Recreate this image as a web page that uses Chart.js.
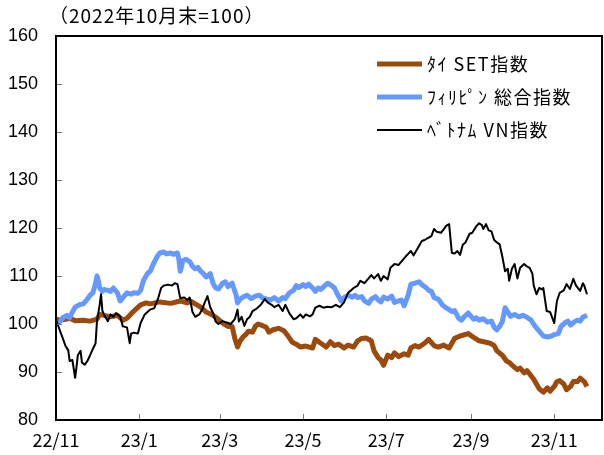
<!DOCTYPE html>
<html>
<head>
<meta charset="utf-8">
<script src="https://cdn.jsdelivr.net/npm/chart.js@4"></script>
<style>
  html, body { margin: 0; padding: 0; background: #ffffff; }
  #wrap { width: 604px; height: 455px; position: relative; }
</style>
</head>
<body>
<div id="wrap"><canvas id="c" width="604" height="455"></canvas></div>
<script>
// Title / labels
const titleText = '（2022年10月末=100）';
const seriesNames = ['ﾀｲ SET指数', 'ﾌｨﾘﾋﾟﾝ 総合指数', 'ﾍﾞﾄﾅﾑ VN指数'];

// X axis: days since 2022-11-01, tick labels
const xTickDays = [0, 61, 120, 181, 242, 304, 365];
const xTickLabels = ['22/11', '23/1', '23/3', '23/5', '23/7', '23/9', '23/11'];

// Thai SET (days since 2022-11-01, index value)
const thaiDays = [0,3,7,10,14,20,25,30,32,35,40,45,49,52,57,62,66,69,76,84,91,96,99,102,106,110,115,119,122,126,129,131,133,135,137,139,141,144,146,148,151,154,156,159,163,167,170,173,176,179,183,188,190,194,198,201,204,207,211,214,218,221,224,227,231,233,236,238,240,243,246,248,251,255,258,260,263,266,270,273,277,280,284,288,292,296,302,306,310,315,318,321,323,327,330,332,335,338,340,343,345,347,350,352,354,357,360,362,365,367,369,372,374,377,379,382,384,387,389];
const thaiValues = [101,100.8,101,101.2,100.7,100.8,100.6,101,102,101.8,101.5,101.8,100.8,101.2,102.7,104,104.4,104.2,104.6,104.3,104.8,104.4,104.7,104.2,103.5,102.5,101.8,101,100.2,99.5,99.5,97,95.2,96.5,97.3,97.8,98.5,98.3,99.5,100,99.7,99.3,98.3,98.8,99.1,98.6,97.5,96.2,95.8,95.2,95.4,95,96.8,96,95.2,96.3,95.5,95.8,95,95.6,95.2,96.5,97,97.1,96.5,94.4,93,92.5,91.4,93.5,93,94,93.2,93.8,93.5,95,95.5,95.2,96,96.8,95.5,95.2,95.6,95,97,97.5,98,97.2,96.5,96.2,96,95.5,94.4,93.5,92.3,92,91.2,90.5,90.8,89.8,90.3,89.6,88.5,87.5,86.5,85.8,86.7,86,87,88,88.2,87.5,86.3,87,88,88,88.7,88,87];

// Philippines PSEi
const philDays = [0,3,5,8,10,12,14,17,20,23,25,27,29,30,31,32,34,35,38,40,42,45,47,49,52,55,57,60,62,64,67,69,71,74,76,79,81,84,86,89,90,91,92,93,95,98,100,102,104,106,108,110,113,115,117,119,122,124,126,129,132,133,135,137,140,143,146,149,151,154,157,160,163,166,168,171,174,176,178,181,183,185,188,190,192,194,197,199,202,204,206,209,211,214,217,219,221,224,226,229,231,234,236,238,240,243,246,248,251,253,255,258,260,263,266,268,271,273,275,277,280,283,285,288,290,292,295,297,299,302,304,306,308,310,313,316,319,321,323,325,327,329,331,333,336,339,342,345,348,351,354,357,360,363,365,368,370,373,375,377,380,382,384,386,389];
const philValues = [100.2,100.5,101.3,101.8,101.3,102.5,103.5,104,104.2,105.2,106,106.5,108.5,110,109,107.5,106.8,107.2,107,106.8,107.5,106.5,104.8,105.5,106.5,106.2,106.5,106.4,107,109,110.5,111,112.3,114,114.8,115,114.6,114.8,114.5,114.8,113.5,111,112,113.2,113.5,113,112,111.5,111.8,111,110.5,109.8,110.5,108.5,107.5,107.3,108.5,108.8,107.8,108.5,106,104.4,105.2,105.6,106,105.3,105.8,106,105.5,105.2,105,105.5,104.8,105.5,105.3,106.5,107,108,107.6,108.2,107.8,108.3,107.5,106.8,107.5,107.2,108,108.5,108,107.5,106.3,104.8,105.5,106,105.6,106,105.5,105.7,104.8,104.3,105.2,105.7,105,104.6,105.6,105.2,105.8,104.5,104.8,105,103.8,106,108.3,108.5,108.8,108.2,107.6,107,106.8,105.5,105.2,104,103.5,103,102.6,102.8,101.2,100.8,101.5,102.3,101.6,101,101.3,100.8,101.1,100.4,100.6,99.3,98.8,99.5,100.5,103.4,102.5,101.6,102,101.5,101.8,101.4,100.8,99.5,98.5,97.5,97.3,97.5,97.8,98,99.5,100.3,100.6,99.8,100.5,100.8,100.6,101.4,101.8];

// Vietnam VN-Index
const vietDays = [0,3,5,7,9,10,12,14,15,16,18,19,21,23,25,27,29,30,32,33,34,36,38,40,42,44,47,49,52,54,55,57,60,62,65,69,72,75,77,79,82,85,87,89,91,94,96,98,100,102,105,107,109,111,113,115,117,119,122,125,128,131,133,134,136,138,140,142,144,147,150,153,155,158,160,163,166,168,171,174,176,179,181,183,186,188,190,193,196,199,202,205,208,211,214,216,218,221,223,226,229,231,233,236,238,240,243,245,248,251,253,256,258,260,262,265,268,270,273,275,277,279,282,284,286,288,290,292,294,296,298,300,303,305,308,310,312,313,315,317,319,321,323,325,327,329,331,332,334,336,338,340,343,345,347,349,350,352,354,356,357,359.5,362,365,367,369,372,374,376.5,379,381,384,386,387,389];
const vietValues = [101,98.5,97,95.4,94.5,92.3,92.5,88.8,91,93.5,94.4,92,91.5,92.3,93.5,94.8,96,100.6,104,106.2,102.7,101.5,100.6,102,101.5,102.3,101.5,99.5,99.3,96,98,98.2,98,100.2,102,103,103.3,105.5,107.5,108,108.2,108,108.5,108.3,105.4,105.5,105,105.5,102.5,101.5,102,103,104.5,105.8,103.5,102.3,100.5,100,100.6,100.3,100,101,103,100.5,101.5,99.6,101,101.5,102.7,103.2,104,105.2,104.5,104,103.5,104,102.7,104,102.2,101,101.2,102,101.3,102,101.6,102,103.4,103.8,103.4,103.6,103.5,104,103.5,104.5,106.5,107,107.5,108,109,108.5,109.5,110.2,109.5,110.4,109,110,109.3,111.7,112.5,112.3,113,114,114.6,115.2,114.3,115.8,117.3,117.5,118,118.3,119.8,119.2,119,119.7,120.5,120.8,114.8,114.7,115.2,114.4,116.5,117,118.8,119,120.4,121,120.6,119.8,120.8,119.5,119.3,117.5,117,116.6,114,111,111.5,109,111.5,112.5,109.5,111.7,112.5,112,111.7,110.5,108,106.2,107.5,107.2,107.5,102.7,102.5,100.2,104.8,106.5,107,108.3,107.3,109.4,108,106.9,108.5,108,106.2];

const toPoints = (xs, ys) => xs.map((x, i) => ({ x: x, y: ys[i] }));

const frameAndTicks = {
  id: 'frameAndTicks',
  afterDatasetsDraw(chart) {
    const { ctx, chartArea: a, scales } = chart;
    ctx.save();
    ctx.strokeStyle = '#777777';
    ctx.lineWidth = 1;
    scales.y.ticks.forEach(t => {
      const py = Math.round(scales.y.getPixelForValue(t.value)) + 0.5;
      ctx.beginPath(); ctx.moveTo(a.left, py); ctx.lineTo(a.left + 6, py); ctx.stroke();
    });
    scales.x.ticks.forEach(t => {
      const px = Math.round(scales.x.getPixelForValue(t.value)) + 0.5;
      ctx.beginPath(); ctx.moveTo(px, a.bottom); ctx.lineTo(px, a.bottom - 6); ctx.stroke();
    });
    ctx.strokeStyle = '#000000';
    ctx.lineWidth = 2;
    ctx.strokeRect(a.left, a.top, a.right - a.left, a.bottom - a.top);
    ctx.restore();
  }
};

const customLegend = {
  id: 'customLegend',
  afterDraw(chart) {
    const { ctx, chartArea: a } = chart;
    ctx.save();
    ctx.fillStyle = '#000000';
    ctx.textBaseline = 'middle';
    ctx.textAlign = 'left';
    ctx.font = '19px "Noto Sans CJK JP", sans-serif';
    ctx.letterSpacing = '1px';
    ctx.fillText(titleText, a.left - 7, 16);
    const x0 = 377, x1 = 422, y0 = 64, gap = 33;
    ctx.font = '18px "Noto Sans CJK JP", sans-serif';
    ctx.letterSpacing = '1.5px';
    chart.data.datasets.forEach((ds, i) => {
      const y = y0 + i * gap;
      ctx.strokeStyle = ds.borderColor;
      ctx.lineWidth = ds.borderWidth;
      ctx.lineCap = 'butt';
      ctx.beginPath(); ctx.moveTo(x0, y); ctx.lineTo(x1, y); ctx.stroke();
      ctx.fillStyle = '#000000';
      ctx.fillText(ds.label, x1 + 5, y);
    });
    ctx.restore();
  }
};

new Chart(document.getElementById('c'), {
  type: 'line',
  data: {
    datasets: [
      { label: seriesNames[0], data: toPoints(thaiDays, thaiValues), borderColor: '#9b4a0c', borderWidth: 5, order: 3 },
      { label: seriesNames[1], data: toPoints(philDays, philValues), borderColor: '#6699ff', borderWidth: 5, order: 2 },
      { label: seriesNames[2], data: toPoints(vietDays, vietValues), borderColor: '#000000', borderWidth: 2, order: 1 }
    ]
  },
  options: {
    responsive: false,
    animation: false,
    layout: { padding: { top: 36, right: 2, left: 0, bottom: 0 } },
    elements: { point: { radius: 0 }, line: { tension: 0, borderJoinStyle: 'round', fill: false } },
    plugins: { legend: { display: false }, tooltip: { enabled: false }, title: { display: false } },
    scales: {
      x: {
        type: 'linear', min: 0, max: 400,
        afterBuildTicks: s => { s.ticks = xTickDays.map(v => ({ value: v })); },
        afterFit: s => { s.height = 35; },
        grid: { display: false, drawTicks: false },
        border: { display: false },
        ticks: {
          autoSkip: false, maxRotation: 0, padding: 9, color: '#000000',
          font: { family: '"Noto Sans CJK JP", sans-serif', size: 18 },
          callback: (v) => { const i = xTickDays.indexOf(v); return i >= 0 ? xTickLabels[i] : ''; }
        }
      },
      y: {
        min: 80, max: 160,
        afterFit: s => { s.width = 56; },
        grid: { display: false, drawTicks: false },
        border: { display: false },
        ticks: {
          stepSize: 10, padding: 18, color: '#000000',
          font: { family: '"Liberation Sans", Arial, sans-serif', size: 18 }
        }
      }
    }
  },
  plugins: [frameAndTicks, customLegend]
});
</script>
</body>
</html>
